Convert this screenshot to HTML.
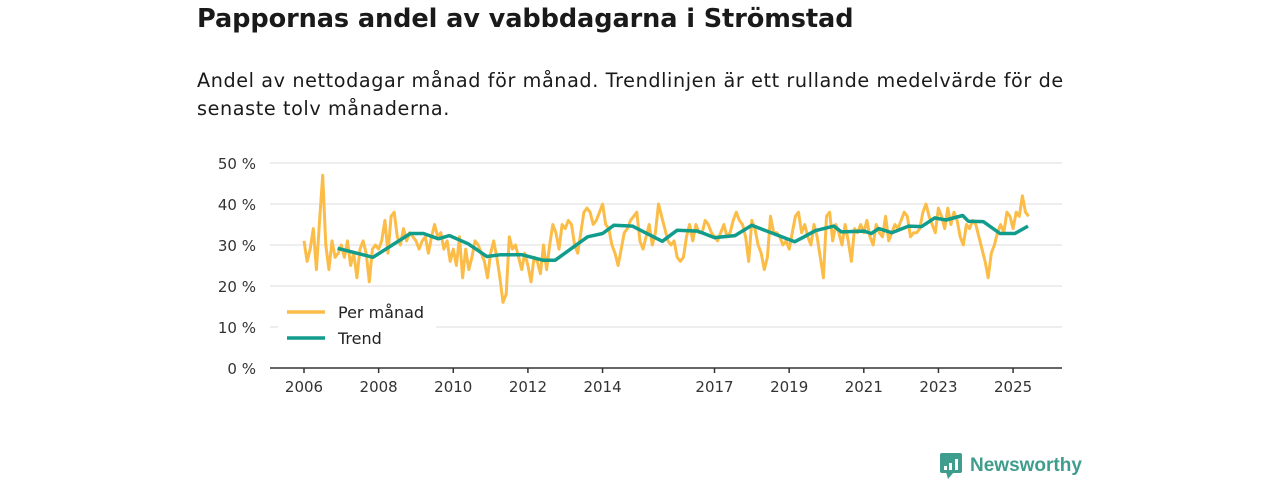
<!DOCTYPE html>
<html><head><meta charset="utf-8">
<style>
body{margin:0;width:1280px;height:480px;background:#fff;font-family:"DejaVu Sans","Liberation Sans",sans-serif;color:#1a1a1a;overflow:hidden;position:relative}
#title{position:absolute;left:197px;top:4px;font-size:25.6px;font-weight:bold;margin:0;letter-spacing:-0.1px}
#sub{position:absolute;left:197px;top:67px;width:900px;font-size:19.2px;line-height:28px;margin:0;letter-spacing:0.6px}
svg{position:absolute;left:0;top:0}
</style></head><body>
<h1 id="title">Pappornas andel av vabbdagarna i Strömstad</h1>
<p id="sub">Andel av nettodagar månad för månad. Trendlinjen är ett rullande medelvärde för de<br>senaste tolv månaderna.</p>
<svg id="chart" width="1280" height="480"></svg>
<script>
const yTicks=[0,10,20,30,40,50];
const xTickYears=[2006,2008,2010,2012,2014,2017,2019,2021,2023,2025];
const startYear=2006;
const monthly=[
31,26,29,34,24,36,47,30,24,31,27,28,
30,27,31,25,28,22,29,31,28,21,29,30,
29,31,36,28,37,38,32,30,34,31,33,32,
31,29,31,32,28,32,35,32,33,29,31,26,
29,25,32,22,29,24,27,31,30,28,26,22,
28,31,27,22,16,18,32,29,30,27,24,28,
25,21,27,26,23,30,24,30,35,33,29,35,
34,36,35,30,28,33,38,39,38,35,36,38,
40,35,34,30,28,25,29,33,34,36,37,38,
31,29,32,35,30,33,40,37,34,31,30,31,
27,26,27,32,35,31,35,33,33,36,35,33,
32,31,33,35,32,33,36,38,36,35,32,26,
36,34,30,28,24,27,37,33,33,32,30,31,
29,33,37,38,33,35,32,30,35,32,27,22,
37,38,31,35,33,30,35,31,26,34,33,35,
33,36,32,30,35,33,32,37,31,33,35,34,
36,38,37,32,33,33,34,38,40,37,35,33,
39,37,34,39,35,38,36,32,30,35,34,36,
35,32,29,26,22,28,30,33,35,33,38,37,
34,38,37,42,38,37];
const trendDates=[2006.9,2007.85,2008.85,2009.2,2009.6,2009.9,2010.4,2010.9,2011.25,2011.85,2012.4,2012.73,2013.6,2014.0,2014.3,2014.8,2015.6,2016.0,2016.55,2017.0,2017.55,2018.0,2019.15,2019.4,2019.7,2020.2,2020.4,2021.0,2021.2,2021.4,2021.75,2022.2,2022.55,2022.9,2023.2,2023.65,2023.8,2024.2,2024.65,2025.05,2025.4];
const trendValues=[29.2,27,32.8,32.8,31.5,32.3,30.3,27.2,27.6,27.6,26.3,26.3,32,32.8,34.8,34.6,30.9,33.6,33.4,31.8,32.3,34.8,30.8,32,33.5,34.6,33.2,33.4,32.8,34,33,34.6,34.5,36.6,36.1,37.2,35.8,35.7,32.8,32.8,34.6];
const NS="http://www.w3.org/2000/svg";
const svg=document.getElementById('chart');
const X0=270,X1=1062,YT=163,YB=368;
const xs=t=>304+(t-2006)*37.32;
const ys=v=>YB-(v/50)*(YB-YT);
function mk(tag,attrs){const e=document.createElementNS(NS,tag);for(const k in attrs)e.setAttribute(k,attrs[k]);svg.appendChild(e);return e;}
yTicks.forEach(v=>{
 if(v>0){const g=mk('line',{x1:X0,x2:X1,y1:ys(v),y2:ys(v),stroke:'#dcdcdc','stroke-width':1});
 
 }
 const t=mk('text',{x:256,y:ys(v)+6,'text-anchor':'end','font-size':15,fill:'#333','font-family':'DejaVu Sans, Liberation Sans, sans-serif'});
 t.textContent=v+' %';
 
 
});
const ax=mk('line',{x1:X0,x2:X1,y1:YB,y2:YB,stroke:'#333','stroke-width':1.5});


xTickYears.forEach(y=>{
 const tk=mk('line',{x1:xs(y),x2:xs(y),y1:YB,y2:YB+5,stroke:'#333','stroke-width':1.5});
 
 
 const t=mk('text',{x:xs(y),y:YB+24,'text-anchor':'middle','font-size':15,fill:'#333','font-family':'DejaVu Sans, Liberation Sans, sans-serif'});
 t.textContent=y;
 
 
});
const mp=monthly.map((v,i)=>xs(startYear+i/12).toFixed(1)+','+ys(v).toFixed(1)).join(' ');
const l1=mk('polyline',{points:mp,fill:'none',stroke:'#fbbd48','stroke-width':3,'stroke-linejoin':'round'});


const tp=trendDates.map((d,i)=>xs(d).toFixed(1)+','+ys(trendValues[i]).toFixed(1)).join(' ');
const l2=mk('polyline',{points:tp,fill:'none',stroke:'#129c8c','stroke-width':3.5,'stroke-linejoin':'round'});


const lb=mk('rect',{x:278,y:298,width:158,height:54,fill:'#fff'});


[['Per månad','#fbbd48',312],['Trend','#129c8c',338]].forEach(([n,c,y])=>{
 const s=mk('line',{x1:287,x2:325,y1:y,y2:y,stroke:c,'stroke-width':3.5});
 
 
 const t=mk('text',{x:338,y:y+6,'font-size':16,fill:'#222','font-family':'DejaVu Sans, Liberation Sans, sans-serif'});
 t.textContent=n;
 
 
});
const logo=mk('rect',{x:940,y:453,width:22,height:20,rx:2,fill:'#3f9d8e'});


const tri=mk('polygon',{points:'946,472 954,472 948,479',fill:'#3f9d8e'});


[[944,466,3,4],[949,463,3,7],[955,459,3,11]].forEach(b=>{
 const r=mk('rect',{x:b[0],y:b[1],width:b[2],height:b[3],fill:'#fff'});
 
 
});
const lt=mk('text',{x:970,y:471,'font-size':19,fill:'#3f9d8e','font-family':'Liberation Sans, sans-serif','font-weight':'bold'});
lt.textContent='Newsworthy';


</script>
</body></html>
